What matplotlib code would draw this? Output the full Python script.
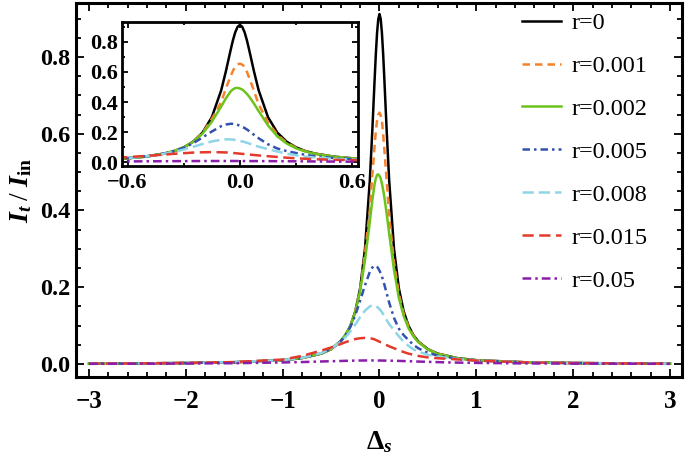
import numpy as np
import matplotlib
matplotlib.use("Agg")
import matplotlib.pyplot as plt
from matplotlib.ticker import MultipleLocator

#### Fontes (Times -> Liberation Serif) ####
plt.rcParams['font.family'] = ['Liberation Serif', 'DejaVu Serif']
plt.rcParams['mathtext.fontset'] = 'custom'
plt.rcParams['mathtext.rm'] = 'Liberation Serif'
plt.rcParams['mathtext.it'] = 'Liberation Serif:italic'
plt.rcParams['mathtext.bf'] = 'Liberation Serif:bold'
plt.rcParams['mathtext.bfit'] = 'Liberation Serif:italic:bold'

#### Dados ####
delta_s = [-3.0, -2.5, -2.0, -1.5, -1.0, -0.8, -0.6, -0.5, -0.4, -0.35, -0.3, -0.25,
           -0.2, -0.15, -0.1, -0.075, -0.05, -0.0375, -0.025, -0.0125, 0.0,
           0.0125, 0.025, 0.0375, 0.05, 0.075, 0.1,
           0.15, 0.2, 0.25, 0.3, 0.35, 0.4, 0.5, 0.6, 0.8, 1.0, 1.5, 2.0, 2.5, 3.0]

t_r0 = [0.001, 0.0015, 0.0025, 0.0045, 0.0099, 0.0154, 0.0271, 0.0385, 0.0588, 0.0753, 0.0995, 0.137,
        0.197, 0.300, 0.478, 0.604, 0.743, 0.809, 0.863, 0.899, 0.912,
        0.899, 0.863, 0.809, 0.743, 0.604, 0.478,
        0.300, 0.197, 0.137, 0.0995, 0.0753, 0.0588, 0.0385, 0.0271, 0.0154, 0.0099, 0.0045, 0.0025, 0.0015, 0.001]

t_r0001 = [0.001, 0.0015, 0.0025, 0.0045, 0.0099, 0.0154, 0.0272, 0.0387, 0.059, 0.0756, 0.0998, 0.137,
           0.195, 0.288, 0.40, 0.49, 0.57, 0.607, 0.635, 0.65, 0.655,
           0.648, 0.635, 0.60, 0.56, 0.475, 0.385,
           0.265, 0.183, 0.131, 0.097, 0.074, 0.058, 0.038, 0.027, 0.0153, 0.0098, 0.0045, 0.0025, 0.0015, 0.001]

t_r0002 = [0.001, 0.0015, 0.0025, 0.0046, 0.010, 0.0156, 0.0275, 0.039, 0.060, 0.077, 0.100, 0.136,
           0.190, 0.270, 0.370, 0.425, 0.470, 0.484, 0.493, 0.494, 0.490,
           0.483, 0.470, 0.454, 0.435, 0.390, 0.340,
           0.245, 0.172, 0.125, 0.093, 0.072, 0.057, 0.0375, 0.0265, 0.015, 0.0097, 0.0044, 0.0025, 0.0015, 0.001]

t_r0005 = [0.001, 0.0015, 0.0025, 0.0046, 0.0101, 0.0158, 0.028, 0.040, 0.060, 0.076, 0.097, 0.127,
           0.165, 0.205, 0.240, 0.251, 0.256, 0.2555, 0.253, 0.249, 0.243,
           0.236, 0.228, 0.218, 0.207, 0.183, 0.160,
           0.120, 0.092, 0.075, 0.062, 0.050, 0.041, 0.029, 0.022, 0.014, 0.0093, 0.0043, 0.0024, 0.0015, 0.001]

t_r0008 = [0.001, 0.0015, 0.0026, 0.0047, 0.0102, 0.016, 0.0285, 0.040, 0.058, 0.070, 0.085, 0.103,
           0.122, 0.139, 0.150, 0.153, 0.152, 0.151, 0.149, 0.146, 0.143,
           0.139, 0.135, 0.130, 0.125, 0.114, 0.104,
           0.088, 0.072, 0.058, 0.047, 0.038, 0.032, 0.024, 0.019, 0.013, 0.0092, 0.0043, 0.0024, 0.0015, 0.001]

t_r0015 = [0.001, 0.0016, 0.0027, 0.005, 0.0115, 0.021, 0.035, 0.043, 0.052, 0.057, 0.061, 0.065,
           0.067, 0.068, 0.067, 0.066, 0.064, 0.0625, 0.061, 0.0595, 0.058,
           0.0565, 0.055, 0.0535, 0.052, 0.049, 0.046,
           0.041, 0.036, 0.031, 0.027, 0.024, 0.021, 0.017, 0.015, 0.012, 0.0088, 0.0042, 0.0024, 0.0015, 0.001]

t_r005 = [0.0004, 0.0007, 0.0012, 0.002, 0.004, 0.005, 0.0065, 0.0072, 0.0078, 0.0082, 0.0085, 0.0088,
          0.009, 0.0091, 0.0092, 0.0092, 0.0092, 0.0092, 0.0091, 0.009, 0.009,
          0.009, 0.0089, 0.0088, 0.0088, 0.0087, 0.0086,
          0.0083, 0.008, 0.0076, 0.0072, 0.0068, 0.0063, 0.0055, 0.0048, 0.0036, 0.0028, 0.0015, 0.0009, 0.0006, 0.0004]

rotulos = ['r=0', 'r=0.001', 'r=0.002', 'r=0.005', 'r=0.008', 'r=0.015', 'r=0.05']
series = [t_r0, t_r0001, t_r0002, t_r0005, t_r0008, t_r0015, t_r005]

#### Estilos ####
cores = ['black', '#F5822A', '#6DC21B', '#3352B0', '#8ED5E6', '#E43A2C', '#8A1DAA']
estilos = ['-', (0, (3, 2)), '-', (0, (3, 1.6, 1, 1.6)), (0, (4.5, 2)), (0, (4.5, 2.2)),
           (0, (3.5, 1.6, 1, 1.6))]


def desenhar(ax):
    linhas = []
    for y, lab, c, ls in zip(series, rotulos, cores, estilos):
        l, = ax.plot(delta_s, y, color=c, ls=ls, lw=1.8, label=lab)
        linhas.append(l)
    return linhas


def estilo_eixos(ax, lw, maj, mnr):
    for s in ax.spines.values():
        s.set_linewidth(lw)
    ax.tick_params(which='both', direction='in', top=True, right=True, width=1.3)
    ax.tick_params(which='major', length=maj)
    ax.tick_params(which='minor', length=mnr)


fig = plt.figure(figsize=(6.85, 4.59), dpi=100)
ax = fig.add_axes([0.111, 0.1786, 0.8846, 0.8149])
linhas = desenhar(ax)

ax.set_xlim(-3.134, 3.124)
ax.set_ylim(-0.034, 0.9407)
ax.set_xticks([-3, -2, -1, 0, 1, 2, 3], ['\u22123', '\u22122', '\u22121', '0', '1', '2', '3'],
              fontweight='bold', fontsize=18)
ax.set_yticks([0, 0.2, 0.4, 0.6, 0.8], ['0.0', '0.2', '0.4', '0.6', '0.8'],
              fontweight='bold', fontsize=17.5)
ax.xaxis.set_minor_locator(MultipleLocator(0.2))
ax.yaxis.set_minor_locator(MultipleLocator(0.05))
estilo_eixos(ax, 2.2, 6, 3.5)
ax.tick_params(axis='x', which='major', pad=9)
ax.tick_params(axis='y', which='major', pad=4)

ax.set_xlabel(r'$\mathbf{\Delta}_{\mathbfit{s}}$', fontsize=20, labelpad=12)
ax.set_ylabel(r'$\mathbfit{I}_{\mathbfit{t}}\;/\;\mathbfit{I}_{\mathbf{in}}$', fontsize=20, labelpad=4)

ax.legend(handles=linhas, loc='upper left', bbox_to_anchor=(0.70, 1.034), frameon=False,
          fontsize=17.5, handlelength=1.6, handletextpad=0.45, labelspacing=0.86)

#### Inset ####
axi = fig.add_axes([0.178, 0.638, 0.3445, 0.3137])
desenhar(axi)
axi.set_xlim(-0.63, 0.63)
axi.set_ylim(-0.025, 0.93)
axi.set_xticks([-0.6, 0, 0.6], ['\u22120.6', '0.0', '0.6'], fontweight='bold', fontsize=16)
axi.set_yticks([0, 0.2, 0.4, 0.6, 0.8], ['0.0', '0.2', '0.4', '0.6', '0.8'],
               fontweight='bold', fontsize=16)
axi.xaxis.set_minor_locator(MultipleLocator(0.3))
axi.yaxis.set_minor_locator(MultipleLocator(0.1))
estilo_eixos(axi, 2.0, 4, 2.5)
axi.tick_params(axis='x', which='major', pad=5)
axi.tick_params(axis='y', which='major', pad=3)

fig.savefig('out.png', dpi=100)
